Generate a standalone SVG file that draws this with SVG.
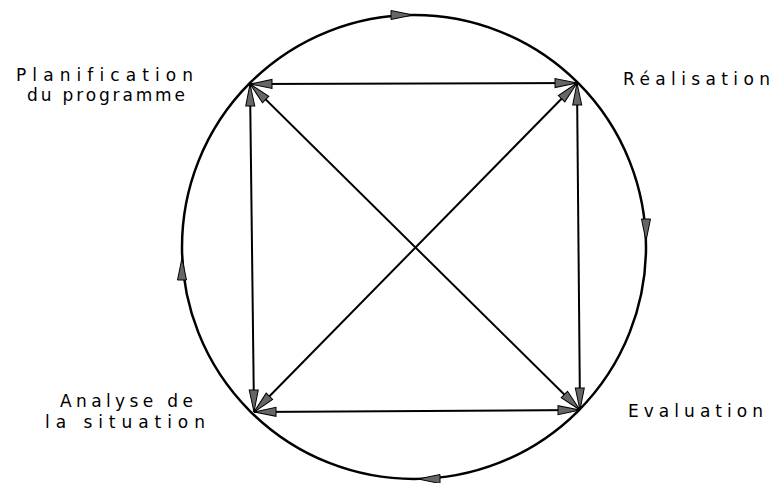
<svg xmlns="http://www.w3.org/2000/svg" width="774" height="483" viewBox="0 0 774 483">
<style>
.lbl{font-family:"DejaVu Sans","Liberation Sans",sans-serif;font-size:17px;fill:#000;font-variant-ligatures:none;font-feature-settings:"liga" 0}
.edge{stroke:#000;stroke-width:2;fill:none}
.ring{stroke:#000;stroke-width:2.5;fill:none}
.head{fill:#666;stroke:#000;stroke-width:1;stroke-linejoin:miter}
</style>
<defs>
<marker id="ah" markerUnits="userSpaceOnUse" viewBox="-24 -6 25 12" markerWidth="25" markerHeight="12" refX="0" refY="0" orient="auto-start-reverse">
<path d="M0,0 L-22,-4.5 L-22,4.5 Z" class="head"/>
</marker>
</defs>
<rect width="774" height="483" fill="#fff"/>
<g id="cycle">
<circle class="ring" cx="414" cy="247" r="232"/>
<polygon class="head" points="0,0 -22,-4.5 -22,4.5" transform="translate(413,15)"/>
<polygon class="head" points="0,0 -22,-4.5 -22,4.5" transform="translate(646,241) rotate(90)"/>
<polygon class="head" points="0,0 -22,-4.5 -22,4.5" transform="translate(418,479) rotate(180)"/>
<polygon class="head" points="0,0 -22,-4.5 -22,4.5" transform="translate(182,258) rotate(-90)"/>
</g>
<g id="connectors">
<line class="edge" x1="250" y1="84" x2="577" y2="83" marker-start="url(#ah)" marker-end="url(#ah)"/>
<line class="edge" x1="250" y1="84" x2="254" y2="412" marker-start="url(#ah)" marker-end="url(#ah)"/>
<line class="edge" x1="577" y1="83" x2="580" y2="410" marker-start="url(#ah)" marker-end="url(#ah)"/>
<line class="edge" x1="254" y1="412" x2="580" y2="410" marker-start="url(#ah)" marker-end="url(#ah)"/>
<line class="edge" x1="250" y1="84" x2="580" y2="410" marker-start="url(#ah)" marker-end="url(#ah)"/>
<line class="edge" x1="577" y1="83" x2="254" y2="412" marker-start="url(#ah)" marker-end="url(#ah)"/>
</g>
<g id="planification">
<text class="lbl" x="16" y="81" textLength="177" lengthAdjust="spacing">Planification</text>
<text class="lbl" x="27" y="101" textLength="158" lengthAdjust="spacing">du programme</text>
</g>
<g id="realisation">
<text class="lbl" x="623" y="85" textLength="147" lengthAdjust="spacing">Réalisation</text>
</g>
<g id="analyse">
<text class="lbl" x="60" y="407" textLength="133" lengthAdjust="spacing">Analyse de</text>
<text class="lbl" x="45" y="428" textLength="160" lengthAdjust="spacing">la situation</text>
</g>
<g id="evaluation">
<text class="lbl" x="628" y="417" textLength="135" lengthAdjust="spacing">Evaluation</text>
</g>
</svg>
